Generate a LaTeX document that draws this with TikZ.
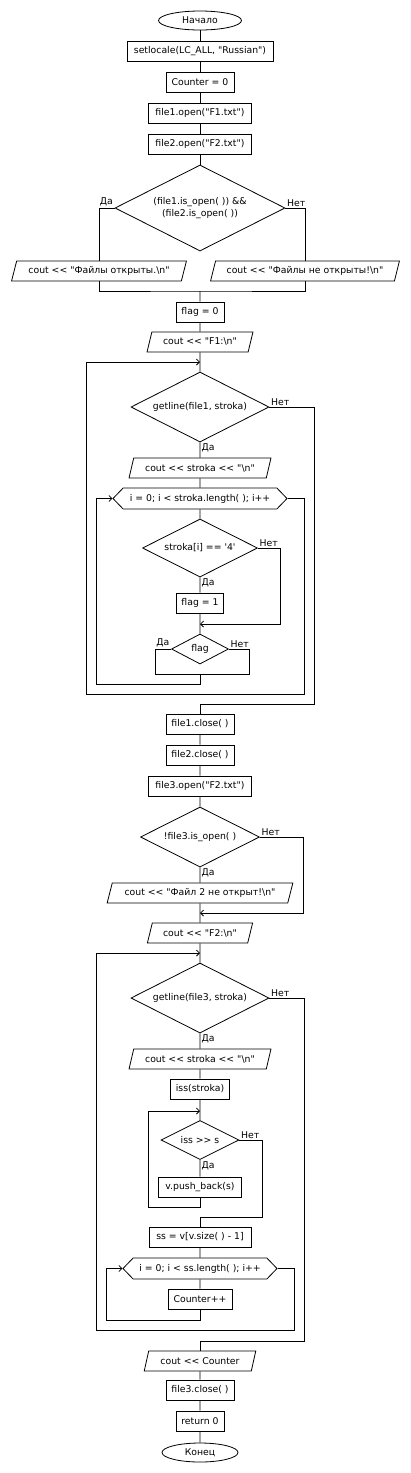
\documentclass[tikz,border=0pt]{standalone}
\usepackage{fontspec}
\newfontfamily\flowfont{DejaVu Sans}
\usetikzlibrary{shapes,arrows.meta,positioning,calc}

\tikzset{
  base/.style={draw, line width=0.8pt, inner sep=0pt, align=center,
    font=\flowfont\fontsize{9.3}{12}\selectfont},
  block/.style={base, rectangle, minimum height=20pt},
  term/.style={base, ellipse, minimum height=19pt},
  io/.style={base, trapezium, trapezium left angle=64, trapezium right angle=116,
    trapezium stretches=true, minimum height=20pt},
  cond/.style={base, diamond, aspect=2},
  forloop/.style={base, signal, signal to=east and west, signal pointer angle=92,
    minimum height=21pt},
  line/.style={line width=0.8pt},
  arr/.style={line, -{Straight Barb[length=3pt,width=6pt]}},
  lbl/.style={inner sep=1.5pt, font=\flowfont\fontsize{9.3}{12}\selectfont},
}

\begin{document}
\begin{tikzpicture}[x=1pt,y=-1pt]
\useasboundingbox (0,0) rectangle (411,1473);

% first part
\node[term, minimum width=83pt] (start) at (200,20.5) {Начало};
\node[block, minimum width=146pt] (setl) at (200,51.5) {setlocale(LC\_ALL, "Russian")};
\node[block, minimum width=68pt] (cnt) at (200,82) {Counter = 0};
\node[block, minimum width=103pt] (fo1) at (200,113) {file1.open("F1.txt")};
\node[block, minimum width=103pt] (fo2) at (200,144) {file2.open("F2.txt")};
\node[cond, minimum width=170pt, minimum height=86pt] (cond1) at (200,208)
  {(file1.is\_open( )) \&\&\\(file2.is\_open( ))};
\node[io, minimum width=175pt] (outok) at (99,271) {cout << "Файлы открыты.\textbackslash n"};
\node[io, minimum width=189pt] (outno) at (305,271) {cout << "Файлы не открыты!\textbackslash n"};
\node[block, minimum width=48pt] (flag0) at (200,312) {flag = 0};
\node[io, minimum width=106pt] (prf1) at (200,342) {cout << "F1:\textbackslash n"};

% reading file1
\node[cond, minimum width=138pt, minimum height=70pt] (gl1) at (200,407) {getline(file1, stroka)};
\node[io, minimum width=142pt] (outs1) at (200,468) {cout << stroka << "\textbackslash n"};
\node[forloop, minimum width=174pt] (for1) at (200,498.5) {i = 0; i < stroka.length( ); i++};
\node[cond, minimum width=115pt, minimum height=58pt] (ifch) at (200,548) {stroka[i] == '4'};
\node[block, minimum width=47pt] (fl1) at (200,603) {flag = 1};
\node[cond, minimum width=57pt, minimum height=30pt] (ifflag) at (200,649) {flag};

\node[block, minimum width=68pt] (fc1) at (200,724) {file1.close( )};
\node[block, minimum width=68pt] (fc2) at (200,755) {file2.close( )};
\node[block, minimum width=103pt] (fo3) at (200,786) {file3.open("F2.txt")};
\node[cond, minimum width=119pt, minimum height=60pt] (if3) at (200,837) {!file3.is\_open( )};
\node[io, minimum width=186pt] (err) at (200,893) {cout << "Файл 2 не открыт!\textbackslash n"};
\node[io, minimum width=106pt] (prf2) at (200,933) {cout << "F2:\textbackslash n"};

% reading file3
\node[cond, minimum width=138pt, minimum height=70pt] (gl3) at (200,998) {getline(file3, stroka)};
\node[io, minimum width=142pt] (outs2) at (200,1059) {cout << stroka << "\textbackslash n"};
\node[block, minimum width=59pt] (iss) at (200,1089) {iss(stroka)};
\node[cond, minimum width=78pt, minimum height=39pt] (issin) at (200,1140) {iss >{}> s};
\node[block, minimum width=83pt] (push) at (200,1187) {v.push\_back(s)};
\node[block, minimum width=102pt] (ss) at (200,1237) {ss = v[v.size( ) - 1]};
\node[forloop, minimum width=154pt] (for2) at (200,1268.5) {i = 0; i < ss.length( ); i++};
\node[block, minimum width=64pt] (cpp) at (200,1299) {Counter++};

\node[io, minimum width=112pt] (outcnt) at (200,1361) {cout << Counter};
\node[block, minimum width=68pt] (fc3) at (200,1390) {file3.close( )};
\node[block, minimum width=48pt] (ret) at (200,1421) {return 0};
\node[term, minimum width=76pt] (stop) at (200,1452.5) {Конец};

% labels
\node[lbl, anchor=south east] (c1yes) at (cond1.west) {Да};
\node[lbl, anchor=south west] (c1no) at (cond1.east) {Нет};
\node[lbl, anchor=north west] (g1yes) at (gl1.south) {Да};
\node[lbl, anchor=south west] (g1no) at (gl1.east) {Нет};
\node[lbl, anchor=north west] (chyes) at (ifch.south) {Да};
\node[lbl, anchor=south west] (chno) at (ifch.east) {Нет};
\node[lbl, anchor=south east] (flyes) at (ifflag.west) {Да};
\node[lbl, anchor=south west] (flno) at (ifflag.east) {Нет};
\node[lbl, anchor=north west] (f3yes) at (if3.south) {Да};
\node[lbl, anchor=south west] (f3no) at (if3.east) {Нет};
\node[lbl, anchor=north west] (g3yes) at (gl3.south) {Да};
\node[lbl, anchor=south west] (g3no) at (gl3.east) {Нет};
\node[lbl, anchor=north west] (isyes) at (issin.south) {Да};
\node[lbl, anchor=south west] (isno) at (issin.east) {Нет};

% corner points
\coordinate (j1) at (200,291);
\coordinate (j4) at (200,362);
\coordinate (j2) at (200,624);
\coordinate (r2) at (280,624);
\coordinate (fa) at (155,674);
\coordinate (fb) at (249,674);
\coordinate (j3) at (200,674);
\coordinate (b3) at (96,684);
\coordinate (b4) at (304,694);
\coordinate (b5) at (86,694);
\coordinate (b6) at (314,704);
\coordinate (j5) at (200,704);
\coordinate (r3) at (303,913);
\coordinate (j6) at (200,913);
\coordinate (j7) at (200,953);
\coordinate (j8) at (200,1111);
\coordinate (p1) at (200,1207);
\coordinate (p2) at (148,1207);
\coordinate (r4) at (262,1217);
\coordinate (j9) at (200,1217);
\coordinate (c1) at (200,1320);
\coordinate (c2) at (106,1320);
\coordinate (b7) at (294,1330);
\coordinate (b8) at (96,1330);
\coordinate (b9) at (304,1341);
\coordinate (j10) at (200,1341);

% connectors
\draw[line] (start) -- (setl) -- (cnt) -- (fo1) -- (fo2) -- (cond1);
\draw[line] (cond1.west) -| (outok.north);
\draw[line] (cond1.east) -| (outno.north);
\draw[line] (outok.south) |- (j1) -| (outno.south);
\draw[line] (j1) -- (flag0) -- (prf1) -- (gl1);
\draw[line] (gl1) -- (outs1) -- (for1) -- (ifch) -- (fl1) -- (ifflag);
\draw[arr] (ifch.east) -| (r2) -- (j2);
\draw[line] (ifflag.west) -| (fa) -- (fb) |- (ifflag.east);
\draw[arr] (j3) |- (b3) |- (for1.west);
\draw[arr] (for1.east) -| (b4) -- (b5) |- (j4);
\draw[line] (gl1.east) -| (b6) -- (j5) -- (fc1);

\draw[line] (fc1) -- (fc2) -- (fo3) -- (if3) -- (err) -- (prf2) -- (gl3);
\draw[arr] (if3.east) -| (r3) -- (j6);
\draw[line] (gl3) -- (outs2) -- (iss) -- (issin) -- (push);
\draw[arr] (push.south) -- (p1) -| (p2) |- (j8);
\draw[line] (issin.east) -| (r4) -- (j9) -- (ss);
\draw[line] (ss) -- (for2) -- (cpp);
\draw[arr] (cpp.south) -- (c1) -| (c2) |- (for2.west);
\draw[arr] (for2.east) -| (b7) -- (b8) |- (j7);
\draw[line] (gl3.east) -| (b9) -- (j10) -- (outcnt);
\draw[line] (outcnt) -- (fc3) -- (ret) -- (stop);
\end{tikzpicture}
\end{document}
